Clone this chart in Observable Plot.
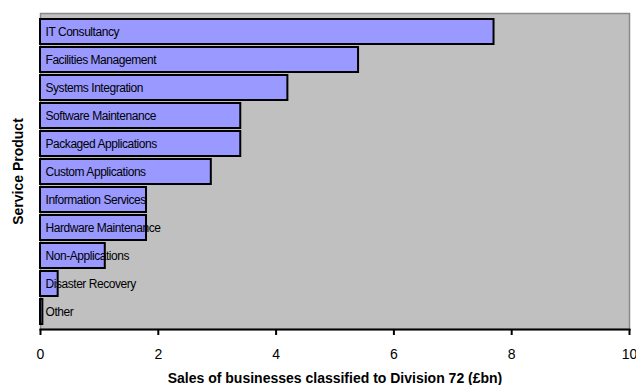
<!DOCTYPE html>
<html>
<head>
<meta charset="utf-8">
<script src="https://cdn.jsdelivr.net/npm/d3@7"></script>
<script src="https://cdn.jsdelivr.net/npm/@observablehq/plot@0.6"></script>
<style>
  html, body { margin: 0; padding: 0; background: #fff; }
  #chart { width: 636px; height: 385px; }
  svg { font-family: "Liberation Sans", Arial, sans-serif; }
  svg g[aria-label="text"][font-size="12"] { letter-spacing: -0.45px; }
</style>
</head>
<body>
<div id="chart"></div>
<script>
const categories = [
  "IT Consultancy",
  "Facilities Management",
  "Systems Integration",
  "Software Maintenance",
  "Packaged Applications",
  "Custom Applications",
  "Information Services",
  "Hardware Maintenance",
  "Non-Applications",
  "Disaster Recovery",
  "Other"
];
const sales = [7.7, 5.4, 4.2, 3.4, 3.4, 2.9, 1.8, 1.8, 1.1, 0.3, 0.04];
const xTicks = [0, 2, 4, 6, 8, 10];
const xTitle = "Sales of businesses classified to Division 72 (£bn)";
const yTitle = "Service Product";

const data = categories.map((c, i) => ({category: c, value: sales[i]}));

const chart = Plot.plot({
  width: 636,
  height: 385,
  marginLeft: 40,
  marginRight: 7,
  marginTop: 13,
  marginBottom: 56,
  style: {fontFamily: "Liberation Sans, Arial, sans-serif", fontSize: "14px", background: "#fff", overflow: "visible"},
  x: {domain: [0, 10], ticks: xTicks},
  y: {domain: categories, paddingInner: 0.12, paddingOuter: 0.06},
  marks: [
    Plot.frame({fill: "#c0c0c0", stroke: "#8a8a8a", strokeWidth: 1.5}),
    Plot.barX(data, {y: "category", x: "value", fill: "#9999ff", stroke: "#000", strokeWidth: 2}),
    Plot.text(data, {y: "category", x: 0, text: "category", textAnchor: "start", dx: 5, fontSize: 12, fill: "#000"}),
    Plot.frame({anchor: "bottom", stroke: "#000", strokeWidth: 2}),
    Plot.axisX({ticks: xTicks, tickSize: 6, tickPadding: 14, fontSize: 14, strokeWidth: 2, stroke: "#000", color: "#000", label: null}),
    Plot.axisY({ticks: [], label: null}),
    Plot.text([yTitle], {frameAnchor: "left", dx: -22, rotate: -90, textAnchor: "middle", lineAnchor: "middle", fontWeight: "bold", fontSize: 14, fill: "#000"}),
    Plot.text([xTitle], {frameAnchor: "bottom", dy: 49, textAnchor: "middle", lineAnchor: "middle", fontWeight: "bold", fontSize: 14, fill: "#000"})
  ]
});
document.getElementById("chart").appendChild(chart);
</script>
</body>
</html>
